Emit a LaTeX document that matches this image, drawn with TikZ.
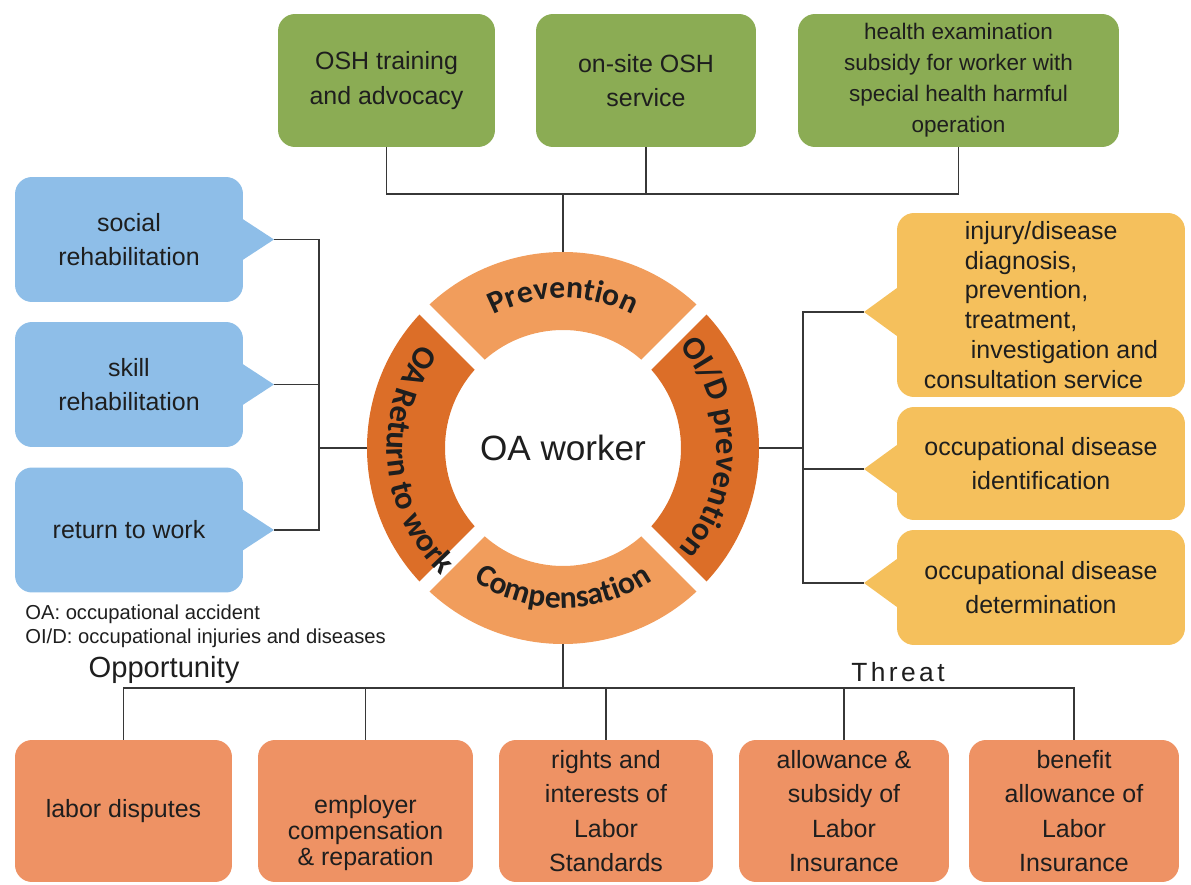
\documentclass[tikz,border=0pt]{standalone}
\usepackage{fontspec}
\setmainfont{Liberation Sans}
\newfontfamily\ringfont{Carlito}
\usepackage{tikz}
\usetikzlibrary{positioning,calc,decorations.text}

\definecolor{oshgreen}{RGB}{139,172,84}
\definecolor{rehabblue}{RGB}{142,190,232}
\definecolor{diagyellow}{RGB}{245,192,92}
\definecolor{compsalmon}{RGB}{238,146,100}
\definecolor{ringlight}{RGB}{241,157,92}
\definecolor{ringdark}{RGB}{220,110,40}
\definecolor{linegray}{RGB}{55,55,55}
\definecolor{txt}{RGB}{30,30,30}

\newcommand{\boxfont}{\fontsize{14.2}{19.6}\selectfont}
\newcommand{\ringtext}{\ringfont\bfseries\fontsize{18}{20}\selectfont\color{txt}}
\newcommand{\sidetext}{\ringfont\bfseries\fontsize{18.5}{21}\selectfont\color{txt}}

\begin{document}
\begin{tikzpicture}[x=0.02cm, y=-0.02cm,
    box/.style={rounded corners=0.34cm, align=center, text=txt, font=\boxfont, inner sep=2pt},
    green box/.style={box, fill=oshgreen, minimum height=2.66cm},
    blue box/.style={box, fill=rehabblue, minimum width=4.56cm, minimum height=2.5cm},
    yellow box/.style={box, fill=diagyellow, minimum width=5.76cm},
    comp box/.style={box, fill=compsalmon, minimum height=2.84cm},
    conn/.style={draw=linegray, line width=1pt},
    ring text/.style={decorate, decoration={text along path, text align=center, text={|\ringtext|#1}}},
    side text/.style={decorate, decoration={text along path, text align=center, text={|\sidetext|#1}}}
]
    \useasboundingbox (0,0) rectangle (1191,885);

    % Prevention services
    \node[green box, minimum width=4.34cm] (trn) at (386.5,80.5) {OSH training\\and advocacy};
    \node[green box, minimum width=4.4cm] (site) at (646,80.5) {on-site OSH\\service};
    \node[green box, minimum width=6.42cm, font=\fontsize{12.8}{17.6}\selectfont] (hexam) at (958.5,80.5)
        {health examination\\subsidy for worker with\\special health harmful\\operation};

    % Rehabilitation
    \node[blue box] (soc) at (129,239.5) {social\\rehabilitation};
    \node[blue box] (skl) at (129,384.5) {skill\\rehabilitation};
    \node[blue box] (rtw) at (129,530) {return to work};
    \coordinate (tsoc) at (274,239.5);
    \coordinate (tskl) at (274,384.5);
    \coordinate (trtw) at (274,530);
    \foreach \b in {soc,skl,rtw}
        \fill[rehabblue] ($(t\b -| \b.east)+(-3,-22)$) -- (t\b) -- ($(t\b -| \b.east)+(-3,22)$) -- cycle;

    % OI/D services
    \node[yellow box, minimum height=3.68cm, align=left, font=\fontsize{14.2}{17}\selectfont] (diag) at (1041,305)
        {\hspace*{0.82cm}injury/disease\\\hspace*{0.82cm}diagnosis,\\\hspace*{0.82cm}prevention,\\\hspace*{0.82cm}treatment,\\\hspace*{0.94cm}investigation and\\consultation service};
    \node[yellow box, minimum height=2.26cm] (idt) at (1041,463.5) {occupational disease\\identification};
    \node[yellow box, minimum height=2.3cm] (det) at (1041,587.5) {occupational disease\\determination};
    \coordinate (tdiag) at (864,312);
    \coordinate (tidt) at (864,469);
    \coordinate (tdet) at (864,583);
    \foreach \b in {diag,idt,det}
        \fill[diagyellow] ($(t\b -| \b.west)+(3,-26)$) -- (t\b) -- ($(t\b -| \b.west)+(3,26)$) -- cycle;

    % Ring
    \node[circle, minimum size=7.84cm, inner sep=0] (ring) at (563,448) {};
    \begin{scope}[shift={(ring.center)}, x=0.02cm, y=0.02cm]
        \fill[ringlight] (45:196) arc[start angle=45, end angle=135, radius=196] -- (135:118) arc[start angle=135, end angle=45, radius=118] -- cycle;
        \fill[ringdark] (135:196) arc[start angle=135, end angle=225, radius=196] -- (225:118) arc[start angle=225, end angle=135, radius=118] -- cycle;
        \fill[ringlight] (225:196) arc[start angle=225, end angle=315, radius=196] -- (315:118) arc[start angle=315, end angle=225, radius=118] -- cycle;
        \fill[ringdark] (-45:196) arc[start angle=-45, end angle=45, radius=196] -- (45:118) arc[start angle=45, end angle=-45, radius=118] -- cycle;
        \foreach \a in {45,135,225,315}
            \draw[white, line width=0.28cm] (\a:110) -- (\a:205);
        \path[ring text=Prevention] (127:150) arc[start angle=127, end angle=53, radius=150];
        \path[ring text=Compensation] (222:160) arc[start angle=222, end angle=318, radius=160];
        \path[side text={OA Return to work}] (134:176) arc[start angle=134, end angle=236, radius=176];
        \path[side text={OI/D prevention}] (52:154) arc[start angle=52, end angle=-52, radius=154];
    \end{scope}
    \node[font=\fontsize{20}{24}\selectfont, text=txt] (wkr) at (ring.center) {OA worker};

    % Compensation
    \node[comp box, minimum width=4.34cm] (lab) at (123.5,811) {labor disputes};
    \node[comp box, minimum width=4.3cm] (emp) at (365.5,811) {};
    \node[box, font=\fontsize{14.2}{14.6}\selectfont] (empt) at (365.5,833) {employer\\compensation\\\& reparation};
    \node[comp box, minimum width=4.28cm] (rgt) at (606,811) {rights and\\interests of\\Labor\\Standards};
    \node[comp box, minimum width=4.2cm] (alw) at (844,811) {allowance \&\\subsidy of\\Labor\\Insurance};
    \node[comp box, minimum width=4.2cm] (ben) at (1074,811) {benefit\\allowance of\\Labor\\Insurance};

    % Labels
    \node[anchor=west, inner sep=0, text=txt, font=\fontsize{11.5}{14}\selectfont] (lgoa) at (25,614) {OA: occupational accident};
    \node[anchor=west, inner sep=0, text=txt, font=\fontsize{11.5}{14}\selectfont] (lgoid) at (25,638) {OI/D: occupational injuries and diseases};
    \node[text=txt, font=\fontsize{16.6}{20}\selectfont] (opp) at (164,670) {Opportunity};
    \node[text=txt, font={\fontsize{15}{18}\selectfont\addfontfeature{LetterSpace=13}}] (thr) at (898,672) {Threat};

    % Connectors
    \coordinate (tbus) at (563,194);
    \draw[conn] (trn.south) |- (hexam.south |- tbus) -- (hexam.south);
    \draw[conn] (site.south) -- (site.south |- tbus);
    \draw[conn] (tbus) -- (ring.north);

    \coordinate (lbus) at (319,448);
    \draw[conn] (tsoc) -| (lbus) |- (trtw);
    \draw[conn] (tskl) -- (tskl -| lbus);
    \draw[conn] (lbus) -- (ring.west);

    \coordinate (rbus) at (803,448);
    \draw[conn] (tdiag) -| (rbus) |- (tdet);
    \draw[conn] (tidt) -- (tidt -| rbus);
    \draw[conn] (rbus) -- (ring.east);

    \coordinate (bbus) at (563,688);
    \draw[conn] (lab.north) |- (ben.north |- bbus) -- (ben.north);
    \foreach \b in {emp,rgt,alw}
        \draw[conn] (\b.north) -- (\b.north |- bbus);
    \draw[conn] (ring.south) -- (bbus);
\end{tikzpicture}
\end{document}
